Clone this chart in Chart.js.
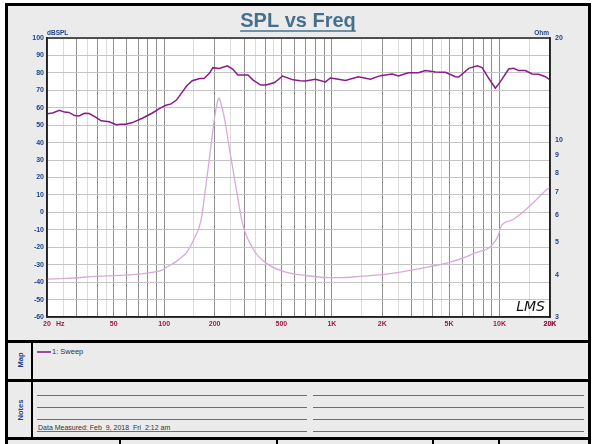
<!DOCTYPE html>
<html>
<head>
<meta charset="utf-8">
<title>SPL vs Freq</title>
<script src="https://cdn.jsdelivr.net/npm/chart.js@4.4.0/dist/chart.umd.min.js"></script>
<style>
  body { margin: 0; background: #fff; }
  #hoja { position: relative; width: 596px; height: 444px; overflow: hidden; background: #fff; font-family: Arial, "Liberation Sans", sans-serif; }
  #marco { position: absolute; left: 5px; top: 3px; width: 586px; height: 460px; box-sizing: border-box; border: 3px solid #000; background: #ebebeb; }
  #grafico { position: absolute; left: 0; top: 0; }
  .barra { position: absolute; background: #000; }
  .linea { position: absolute; height: 1px; background: #6e6e6e; }
  .rotado { position: absolute; transform: translate(-50%, -50%) rotate(-90deg); font-weight: bold; font-size: 7.5px; color: #1d4289; white-space: nowrap; }
  #leyenda { position: absolute; left: 37px; top: 347px; font-size: 7.5px; color: #333; white-space: nowrap; }
  #leyenda span { display: inline-block; width: 14px; height: 2px; background: #9a4c9a; vertical-align: middle; margin-right: 1px; }
  #medido { position: absolute; left: 38px; top: 424px; font-size: 7px; color: #333; white-space: pre; }
</style>
</head>
<body>
<div id="hoja">
  <div id="marco"></div>
  <canvas id="grafico" width="596" height="340"></canvas>

  <div class="barra" style="left:5px; top:340px; width:586px; height:3px;"></div>
  <div class="barra" style="left:31px; top:343px; width:2px; height:36px;"></div>
  <div class="rotado" style="left:20px; top:360px;">Map</div>
  <div id="leyenda"><span></span>1: Sweep</div>

  <div class="barra" style="left:5px; top:379px; width:586px; height:3px;"></div>
  <div class="barra" style="left:31px; top:382px; width:2px; height:55px;"></div>
  <div class="rotado" style="left:20px; top:410px;">Notes</div>
  <div class="linea" style="left:37px; top:395px; width:270px;"></div>
  <div class="linea" style="left:37px; top:407px; width:270px;"></div>
  <div class="linea" style="left:37px; top:419px; width:270px;"></div>
  <div class="linea" style="left:37px; top:431px; width:270px;"></div>
  <div class="linea" style="left:313px; top:395px; width:271px;"></div>
  <div class="linea" style="left:313px; top:407px; width:271px;"></div>
  <div class="linea" style="left:313px; top:419px; width:271px;"></div>
  <div class="linea" style="left:313px; top:431px; width:271px;"></div>
  <div id="medido">Data Measured: Feb  9, 2018  Fri  2:12 am</div>

  <div class="barra" style="left:5px; top:437px; width:586px; height:3px;"></div>
  <div class="barra" style="left:119px; top:440px; width:2px; height:4px;"></div>
  <div class="barra" style="left:276px; top:440px; width:2px; height:4px;"></div>
  <div class="barra" style="left:432px; top:440px; width:2px; height:4px;"></div>
  <div class="barra" style="left:498px; top:440px; width:2px; height:4px;"></div>
</div>

<script>
const titulo = "SPL vs Freq";
const colorTitulo = "#44708e";
const colorAzul = "#1d4289";
const colorRojo = "#9b1b4b";

// SPL (dB)
const splFreq = [20, 21.6, 23.7, 25.4, 27, 29.2, 31, 33.5, 35.7, 39.2, 42.1, 47.1, 51.7, 55, 59.2, 64.6, 74.1, 85.1, 94.5, 102.6,
  110, 118.3, 136, 147, 163, 173, 187, 195, 213, 238, 256, 275, 316, 338, 376, 405, 456, 508, 586, 647,
  696, 798, 916, 980, 1094, 1205, 1440, 1698, 1948, 2288, 2494, 2860, 3280, 3612, 4150, 4758, 5460, 5712, 6552, 7352,
  7874, 8620, 9440, 10120, 11340, 12140, 13000, 14260, 15640, 17140, 18780, 20000];
const splDb = [56.5, 57, 58.5, 57.5, 57.3, 55.5, 55.3, 56.8, 56.7, 54.5, 52.5, 52, 50.3, 50.5, 50.5, 51.5, 54, 57, 59.8, 61.4,
  62.2, 64.4, 72.5, 75.5, 76.8, 76.8, 80, 83, 82.5, 84, 82.2, 78.8, 78.8, 76, 73, 73, 74.5, 78.2, 76, 75.5,
  75.3, 76.3, 74.8, 77.1, 76.3, 75.6, 77.8, 76.3, 78.4, 79.4, 78.2, 80.1, 80.1, 81.3, 80.5, 80.3, 77.8, 77.6, 82.6, 84.1,
  83, 76.9, 71.2, 75, 82.2, 82.6, 81.3, 81.3, 79.4, 79.2, 77.8, 76];

// Impedancia (Ohm)
const zFreq = [20, 26, 41, 65, 81, 97.6, 102.6, 118.3, 123, 136, 149, 166, 177, 187.5, 200, 206, 212, 218, 228, 246,
  270, 293, 342, 407, 532, 692, 958, 1110, 1516, 1994, 2394, 3782, 4758, 6866, 9800, 10200, 11890, 13140, 15770, 19370, 20000];
const zOhm = [3.88, 3.9, 3.96, 4.0, 4.05, 4.13, 4.2, 4.38, 4.45, 4.65, 5.04, 5.8, 7.28, 9.1, 11.7, 12.7, 13.3, 12.8, 11.7, 9.3,
  7.1, 5.67, 4.73, 4.32, 4.07, 3.98, 3.92, 3.92, 3.96, 4.0, 4.05, 4.22, 4.32, 4.6, 5.2, 5.55, 5.8, 6.0, 6.5, 7.17, 7.25];

const freqTickValues = [20, 50, 100, 200, 500, 1000, 2000, 5000, 10000, 20000];
const freqTickText = ["20", "50", "100", "200", "500", "1K", "2K", "5K", "10K", "20K"];
const dbTicks = [-60, -55, -50, -45, -40, -35, -30, -25, -20, -15, -10, -5, 0, 5, 10, 15, 20, 25, 30, 35, 40, 45, 50, 55, 60, 65, 70, 75, 80, 85, 90, 95, 100];
const ohmTicks = [3, 4, 5, 6, 7, 8, 9, 10, 20];
const gridMult = [1, 1.5, 2, 2.5, 3, 3.5, 4, 4.5, 5, 6, 7, 8, 9];
const decadas = [10, 100, 1000, 10000];

const freqGrid = [];
decadas.forEach((d) => {
  gridMult.forEach((m) => {
    const v = d * m;
    if (v >= 20 && v <= 20000) freqGrid.push(v);
  });
});
freqGrid.push(20000);

function esLineaClara(v) {
  const d = Math.pow(10, Math.floor(Math.log10(v) + 1e-9));
  const m = v / d;
  return Math.abs(m - Math.round(m)) > 0.1;
}

const extras = {
  id: "extras",
  beforeDraw(chart) {
    const { ctx, chartArea: a } = chart;
    ctx.save();
    ctx.fillStyle = "#fff";
    ctx.fillRect(a.left, a.top, a.right - a.left, a.bottom - a.top);
    ctx.restore();
  },
  afterDraw(chart) {
    const { ctx, chartArea: a, scales } = chart;
    ctx.save();
    ctx.strokeStyle = "#222";
    ctx.lineWidth = 1.5;
    ctx.strokeRect(a.left, a.top, a.right - a.left, a.bottom - a.top);

    ctx.font = "bold 20px Arial";
    const w = ctx.measureText(titulo).width;
    ctx.strokeStyle = colorTitulo;
    ctx.lineWidth = 1.5;
    ctx.beginPath();
    ctx.moveTo(chart.width / 2 - w / 2, 31);
    ctx.lineTo(chart.width / 2 + w / 2, 31);
    ctx.stroke();

    ctx.font = "bold 6.5px Arial";
    ctx.fillStyle = colorAzul;
    ctx.textBaseline = "alphabetic";
    ctx.textAlign = "left";
    ctx.fillText("dBSPL", a.left, a.top - 3);
    ctx.textAlign = "right";
    ctx.fillText("Ohm", a.right - 1, a.top - 3);

    ctx.font = "bold 7px Arial";
    ctx.fillStyle = colorRojo;
    ctx.textAlign = "left";
    ctx.textBaseline = "middle";
    ctx.fillText("Hz", scales.x.getPixelForValue(20) + 9, a.bottom + 7);

    ctx.font = "italic 200 14px 'DejaVu Sans'";
    ctx.fillStyle = "#111";
    ctx.textAlign = "right";
    ctx.textBaseline = "alphabetic";
    ctx.fillText("LMS", a.right - 5, a.bottom - 6);
    ctx.restore();
  }
};

const grafico = new Chart(document.getElementById("grafico"), {
  type: "line",
  data: {
    datasets: [
      {
        label: "Impedance",
        data: zFreq.map((f, i) => ({ x: f, y: zOhm[i] })),
        yAxisID: "yOhm",
        borderColor: "#d9a8dc",
        borderWidth: 1.3,
        pointRadius: 0,
        cubicInterpolationMode: "monotone",
      },
      {
        label: "1: Sweep",
        data: splFreq.map((f, i) => ({ x: f, y: splDb[i] })),
        yAxisID: "y",
        borderColor: "#8a1a88",
        borderWidth: 1.5,
        pointRadius: 0,
        tension: 0,
      },
    ],
  },
  options: {
    responsive: false,
    animation: false,
    layout: { padding: 0 },
    plugins: {
      legend: { display: false },
      tooltip: { enabled: false },
      title: {
        display: true,
        text: titulo,
        color: colorTitulo,
        font: { family: "Arial", size: 20, weight: "bold" },
        padding: { top: 9, bottom: 5 },
      },
    },
    scales: {
      x: {
        type: "logarithmic",
        min: 20,
        max: 20000,
        afterBuildTicks: (s) => { s.ticks = freqGrid.map((v) => ({ value: v })); },
        afterFit: (s) => { s.height = 23; },
        ticks: {
          autoSkip: false,
          maxRotation: 0,
          padding: 3,
          color: colorRojo,
          font: { family: "Arial", size: 7, weight: "bold" },
          callback: (v) => {
            const i = freqTickValues.indexOf(v);
            return i >= 0 ? freqTickText[i] : "";
          },
        },
        grid: {
          drawTicks: false,
          lineWidth: 1,
          color: (c) => (c.tick && esLineaClara(c.tick.value) ? "#dcdcdc" : "#8f8f8f"),
        },
        border: { color: "#222", width: 1.5 },
      },
      y: {
        position: "left",
        min: -60,
        max: 100,
        afterBuildTicks: (s) => { s.ticks = dbTicks.map((v) => ({ value: v })); },
        afterFit: (s) => { s.width = 47; },
        ticks: {
          padding: 3,
          color: colorAzul,
          font: { family: "Arial", size: 7, weight: "bold" },
          callback: (v) => (v % 10 === 0 ? v : ""),
        },
        grid: { drawTicks: false, color: "#c4c4c4", lineWidth: 1 },
        border: { color: "#222", width: 1.5 },
      },
      yOhm: {
        type: "logarithmic",
        position: "right",
        min: 3,
        max: 20,
        afterBuildTicks: (s) => { s.ticks = ohmTicks.map((v) => ({ value: v })); },
        afterFit: (s) => { s.width = 46; },
        ticks: {
          padding: 5,
          color: colorAzul,
          font: { family: "Arial", size: 7, weight: "bold" },
          callback: (v) => (ohmTicks.includes(v) ? String(v) : ""),
        },
        grid: { display: false, drawTicks: false },
        border: { color: "#222", width: 1.5 },
      },
    },
  },
  plugins: [extras],
});
</script>
</body>
</html>
